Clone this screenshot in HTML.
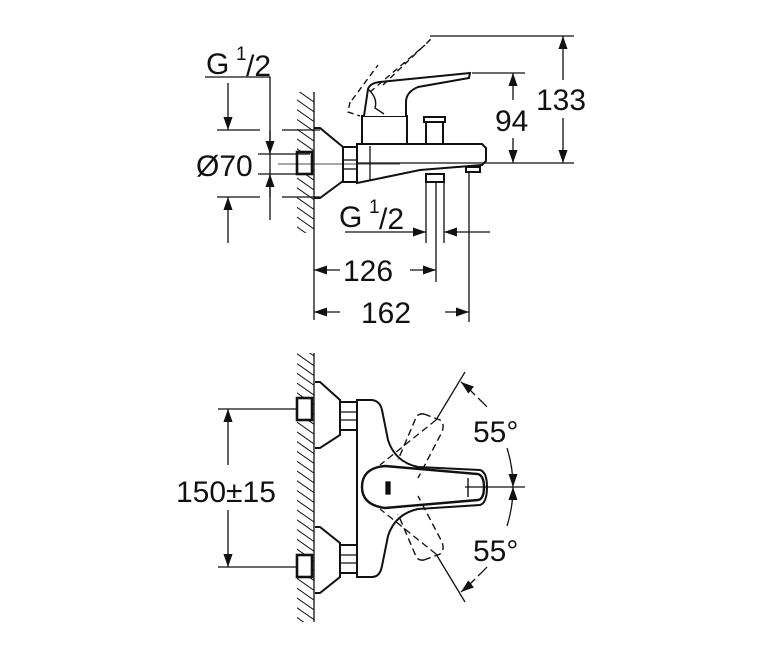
<!DOCTYPE html>
<html><head><meta charset="utf-8"><style>
html,body{margin:0;padding:0;background:#fff;}
svg{display:block;}
text{font-family:"Liberation Sans",sans-serif;fill:#111;}
</style></head><body>
<svg width="780" height="650" viewBox="0 0 780 650" xmlns="http://www.w3.org/2000/svg">
<defs>
<pattern id="h" width="8" height="8" patternUnits="userSpaceOnUse" patternTransform="rotate(-55)">
<line x1="0" y1="0" x2="0" y2="8" stroke="#111" stroke-width="2"/>
</pattern>
<marker id="a" viewBox="0 0 10 10" refX="10" refY="5" markerWidth="13" markerHeight="13" markerUnits="userSpaceOnUse" orient="auto-start-reverse">
<path d="M0,1.5 L10,5 L0,8.5 Z" fill="#111"/>
</marker>
</defs>
<g stroke="#111" fill="none" stroke-width="1.3">
<!-- TOP VIEW -->
<rect x="297" y="92" width="17" height="141" fill="url(#h)" stroke="none"/>
<line x1="314" y1="92" x2="314" y2="320"/>
<path d="M314,128 L320,128 L343,147 L343,181 L320,198 L314,198" stroke-width="2"/>
<rect x="297" y="152" width="15" height="22" stroke-width="2.6" fill="#fff"/>
<rect x="343" y="147" width="14" height="35" stroke-width="2"/>
<line x1="343" y1="160" x2="357" y2="160"/><line x1="343" y1="169" x2="357" y2="169"/>
<path d="M357,144 L482,144 L486,148 L486,161 L482,165 L420,170 L357,183 Z" stroke-width="2" fill="#fff"/>
<line x1="370" y1="146" x2="370" y2="180"/>
<rect x="362" y="116" width="45" height="28" stroke-width="2" fill="#fff"/>
<path d="M364,116 L368,89 Q370,83 380,82 L470,73 L469,78 L418,87 Q406,92 406,102 L406,116" stroke-width="2" fill="#fff"/>
<path d="M368,89 Q378,98 375,108 L384,114" stroke-width="1.4"/>
<path d="M350,102 L348,112 L360,116 M352,100 L378,65 M370,92 L425,45 M383,85 L432,38" stroke-dasharray="6,4" stroke-width="1.4"/>
<rect x="426" y="120" width="17" height="24" stroke-width="2" fill="#fff"/>
<rect x="424" y="117" width="21" height="5" stroke-width="2" fill="#fff"/>
<rect x="426" y="174" width="18" height="8" stroke-width="2"/>
<rect x="466" y="167" width="14" height="5" stroke-width="2"/>
<line x1="426" y1="182" x2="426" y2="243"/><line x1="444" y1="182" x2="444" y2="243"/>
<line x1="436" y1="182" x2="436" y2="282"/>
<line x1="469" y1="172" x2="469" y2="322"/>
<line x1="278" y1="164" x2="400" y2="164" stroke-width="0.8"/>
<!-- 133 / 94 -->
<line x1="430" y1="36" x2="574" y2="36"/>
<line x1="357" y1="163" x2="574" y2="163"/>
<line x1="472" y1="73" x2="525" y2="73"/>
<line x1="563" y1="80" x2="563" y2="36" marker-end="url(#a)"/>
<line x1="563" y1="118" x2="563" y2="163" marker-end="url(#a)"/>
<line x1="513" y1="100" x2="513" y2="73" marker-end="url(#a)"/>
<line x1="513" y1="138" x2="513" y2="163" marker-end="url(#a)"/>
<!-- left dims -->
<polyline points="205,77 270,77 270,220"/>
<line x1="228" y1="83" x2="228" y2="130" marker-end="url(#a)"/>
<line x1="228" y1="243" x2="228" y2="197" marker-end="url(#a)"/>
<line x1="217" y1="130" x2="260" y2="130"/><line x1="282" y1="130" x2="320" y2="130"/>
<line x1="217" y1="197" x2="260" y2="197"/><line x1="282" y1="197" x2="320" y2="197"/>
<line x1="258" y1="154" x2="310" y2="154"/><line x1="258" y1="174" x2="310" y2="174"/>
<line x1="270" y1="130" x2="270" y2="154" marker-end="url(#a)"/>
<line x1="270" y1="197" x2="270" y2="174" marker-end="url(#a)"/>
<!-- G1/2 bottom -->
<line x1="345" y1="232" x2="426" y2="232" marker-end="url(#a)"/>
<line x1="490" y1="232" x2="444" y2="232" marker-end="url(#a)"/>
<!-- 126 / 162 -->
<line x1="340" y1="270" x2="314" y2="270" marker-end="url(#a)"/>
<line x1="410" y1="270" x2="436" y2="270" marker-end="url(#a)"/>
<line x1="340" y1="312" x2="314" y2="312" marker-end="url(#a)"/>
<line x1="445" y1="312" x2="469" y2="312" marker-end="url(#a)"/>

<!-- BOTTOM VIEW -->
<rect x="297" y="353" width="17" height="269" fill="url(#h)" stroke="none"/>
<line x1="314" y1="353" x2="314" y2="622"/>
<path d="M315,382 L320,382 L340,400 L340,435 L320,448 L315,448" stroke-width="2"/>
<path d="M315,527 L320,527 L340,543 L340,577 L320,593 L315,593" stroke-width="2"/>
<rect x="297" y="398" width="15" height="22" stroke-width="2.6" fill="#fff"/>
<rect x="297" y="555" width="15" height="22" stroke-width="2.6" fill="#fff"/>
<rect x="340" y="402" width="17" height="28" stroke-width="2"/>
<line x1="340" y1="412" x2="357" y2="412"/><line x1="340" y1="420" x2="357" y2="420"/>
<rect x="340" y="545" width="17" height="28" stroke-width="2"/>
<line x1="340" y1="555" x2="357" y2="555"/><line x1="340" y1="563" x2="357" y2="563"/>
<path d="M357,400 L372,400 Q380,401 382,410 L388,440 Q395,462 418,467 L480,470 Q487,472 487,487 Q487,503 480,505 L418,509 Q395,514 388,536 L382,566 Q380,577 372,577 L357,577 Z" stroke-width="2" fill="#fff"/>
<path d="M385,466 L478,474 Q484,476 484,487 Q484,499 478,500 L385,508 Q362,505 362,487 Q362,468 385,466 Z" stroke-width="2.4"/>
<path d="M468,478 L468,497" stroke-width="1.4"/>
<rect x="386" y="482" width="4" height="12" fill="#111"/>
<line x1="465" y1="487" x2="525" y2="487"/>
<!-- dashed rotated handles -->
<line x1="465" y1="372" x2="436" y2="420"/>
<line x1="436" y1="420" x2="380" y2="465" stroke-dasharray="7,4"/>
<line x1="465" y1="602" x2="436" y2="554"/>
<line x1="436" y1="554" x2="380" y2="509" stroke-dasharray="7,4"/>
<path d="M424,414 L440,420 Q445,424 442,432 L418,478 M424,414 Q417,413 415,420 L398,460" stroke-dasharray="7,4" stroke-width="1.4"/>
<path d="M424,560 L440,554 Q445,550 442,542 L418,496 M424,560 Q417,561 415,554 L398,514" stroke-dasharray="7,4" stroke-width="1.4"/>
<!-- arcs -->
<path d="M461,382 A130,130 0 0 1 475,395" marker-start="url(#a)"/>
<path d="M478,398 A130,130 0 0 1 487,407"/>
<path d="M507,448 A130,130 0 0 1 513,487" marker-end="url(#a)"/>
<path d="M461,592 A130,130 0 0 0 475,579" marker-start="url(#a)"/>
<path d="M478,576 A130,130 0 0 0 487,567"/>
<path d="M507,526 A130,130 0 0 0 513,487" marker-end="url(#a)"/>
<!-- 150±15 -->
<line x1="218" y1="409" x2="297" y2="409"/>
<line x1="218" y1="567" x2="297" y2="567"/>
<line x1="228" y1="465" x2="228" y2="409" marker-end="url(#a)"/>
<line x1="228" y1="510" x2="228" y2="567" marker-end="url(#a)"/>
</g>
<g font-size="30">
<text x="206" y="74">G</text><text x="236" y="60" font-size="19">1</text><text x="246" y="76">/2</text>
<text x="196" y="176">Ø70</text>
<text x="339" y="227">G</text><text x="369" y="213" font-size="19">1</text><text x="379" y="229">/2</text>
<text x="343" y="281">126</text>
<text x="361" y="323">162</text>
<text x="495" y="131">94</text>
<text x="536" y="110">133</text>
<text x="176" y="502">150±15</text>
<text x="473" y="442">55°</text>
<text x="473" y="561">55°</text>
</g>
</svg>
</body></html>
